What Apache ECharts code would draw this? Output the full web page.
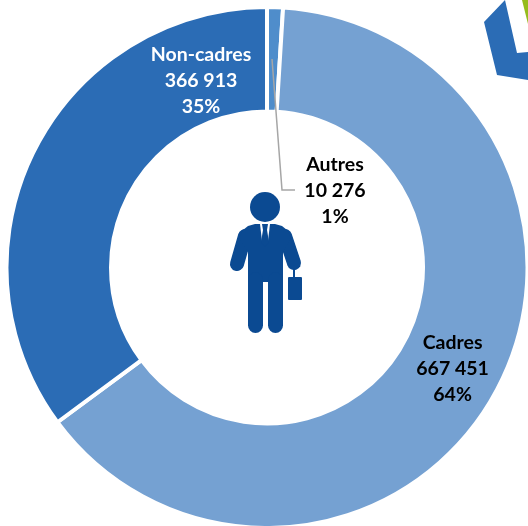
<!DOCTYPE html>
<html><head><meta charset="utf-8">
<style>html,body{margin:0;padding:0;background:#fff}#c{width:528px;height:526px}</style>
<script src="https://cdn.jsdelivr.net/npm/echarts@6/dist/echarts.min.js"></script>
</head><body><div id="c"></div>
<script>
const categories = ['Autres', 'Cadres', 'Non-cadres'];
const values = [10276, 667451, 366913];
const percents = ['1%', '64%', '35%'];
const colors = ['#4F8DCB', '#75A1D2', '#2B6CB5'];
const labelColors = ['#000', '#000', '#fff'];
const navy = '#0B4A92';
const fmt = v => String(v).replace(/\B(?=(\d{3})+$)/g, ' ');
const labelSpots = {0: {x: 335, y: 191}, 2: {x: 201, y: 81}};
const chart = echarts.init(document.getElementById('c'), null, {renderer: 'canvas'});
const line = (x1, y1, x2, y2, w) => ({type: 'line', shape: {x1, y1, x2, y2}, style: {stroke: navy, lineWidth: w, lineCap: 'round'}});
chart.setOption({
  animation: false,
  backgroundColor: '#fff',
  series: [{
    type: 'pie', center: [267, 267.5], radius: [156, 260.5], startAngle: 90, clockwise: true,
    silent: true,
    data: categories.map((name, i) => ({name, value: values[i],
      itemStyle: {color: colors[i], borderColor: '#fff', borderWidth: 4},
      label: {color: labelColors[i]}})),
    label: {show: true, position: 'inside', fontFamily: 'Lato', fontWeight: 'bold', fontSize: 19.5, lineHeight: 26, align: 'center', verticalAlign: 'middle',
      formatter: p => p.name + '\n' + fmt(p.value) + '\n' + percents[p.dataIndex]},
    labelLine: {show: false},
    labelLayout: p => labelSpots[p.dataIndex] ? {x: labelSpots[p.dataIndex].x, y: labelSpots[p.dataIndex].y, align: 'center', verticalAlign: 'middle'} : {}
  }],
  graphic: [
    {type: 'polyline', z: 20, shape: {points: [[272, 59], [282, 190], [295, 190]]}, style: {stroke: '#A6A6A6', lineWidth: 1.5, fill: null}},
    {type: 'polygon', shape: {points: [[484, 22], [505, 0], [517, 53], [528, 52], [528, 80], [497, 75]]}, style: {fill: '#2B6CB5'}},
    {type: 'polygon', shape: {points: [[522, 0], [528, 0], [528, 24]]}, style: {fill: '#95BC1C'}},
    {type: 'group', z: 10, children: [
      {type: 'circle', shape: {cx: 265, cy: 207, r: 15}, style: {fill: navy}},
      line(245, 236, 237, 264, 14), line(285, 236, 294, 263, 14),
      {type: 'polygon', smooth: 0, shape: {points: [[255, 224], [275, 224], [282, 226], [287, 230], [291, 238], [283, 252], [283, 282], [248, 282], [248, 252], [239, 238], [243, 230], [248, 226]]}, style: {fill: navy}},
      line(255.5, 280, 255.5, 325.5, 15), line(275.5, 280, 275.5, 325.5, 15),
      {type: 'polygon', shape: {points: [[260, 224], [270, 224], [268, 241], [262, 241]]}, style: {fill: '#fff'}},
      {type: 'polygon', shape: {points: [[262, 224], [268, 224], [267, 230], [269, 242], [265, 247], [261, 242], [263, 230]]}, style: {fill: navy}},
      line(294, 266, 294, 278, 2),
      {type: 'rect', shape: {x: 288, y: 277, width: 14, height: 23, r: 1}, style: {fill: navy}}
    ]}
  ]
});
</script></body></html>
